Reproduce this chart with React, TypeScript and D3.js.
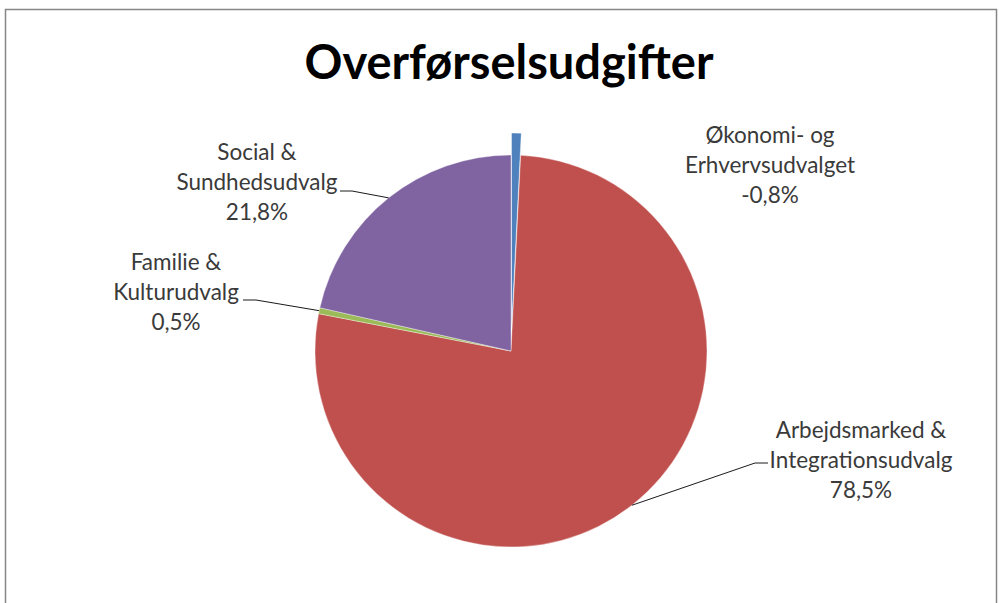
import { useEffect, useRef } from "react";
import * as d3 from "d3";

// chart data
const categories = [
  "Økonomi- og Erhvervsudvalget",
  "Arbejdsmarked & Integrationsudvalg",
  "Familie & Kulturudvalg",
  "Social & Sundhedsudvalg",
];
const values = [-0.8, 78.5, 0.5, 21.8];
const colors = ["#4F81BD", "#C0504D", "#9BBB59", "#8064A2"];
// label lines as shown in the chart
const labelLines = [
  ["Økonomi- og", "Erhvervsudvalget"],
  ["Arbejdsmarked &", "Integrationsudvalg"],
  ["Familie &", "Kulturudvalg"],
  ["Social &", "Sundhedsudvalg"],
];
const title = "Overførselsudgifter";

const W = 999;
const H = 603;

export default function App() {
  const ref = useRef<SVGSVGElement>(null);

  useEffect(() => {
    document.body.style.margin = "0";
    const svg = d3.select(ref.current);
    svg.selectAll("*").remove();

    // chart frame
    svg
      .append("rect")
      .attr("x", 5.5)
      .attr("y", 9.5)
      .attr("width", 991)
      .attr("height", 620)
      .attr("fill", "#fff")
      .attr("stroke", "#868686")
      .attr("stroke-width", 1.5);

    svg
      .append("text")
      .attr("x", 509)
      .attr("y", 79)
      .attr("text-anchor", "middle")
      .attr("font-family", "Lato, 'Open Sans', sans-serif")
      .attr("font-weight", "bold")
      .attr("font-size", 47)
      .attr("fill", "#000")
      .text(title);

    const cx = 511;
    const cy = 351;
    const r = 196;
    const explode = 22;

    const data = values.map((v, i) => ({ v, i, name: categories[i] }));
    const pie = d3
      .pie<{ v: number; i: number; name: string }>()
      .sort(null)
      .value((d) => Math.abs(d.v));
    const arcs = pie(data);
    const arc = d3
      .arc<d3.PieArcDatum<{ v: number; i: number; name: string }>>()
      .innerRadius(0)
      .outerRadius(r);

    const g = svg.append("g").attr("transform", `translate(${cx},${cy})`);
    g.selectAll("path")
      .data(arcs)
      .join("path")
      .attr("d", arc)
      .attr("fill", (d) => colors[d.data.i])
      .attr("stroke", "#fff")
      .attr("stroke-width", 0.6)
      .attr("stroke-opacity", 0.6)
      .attr("transform", (d) => {
        if (d.data.i !== 0) return null;
        const m = (d.startAngle + d.endAngle) / 2;
        return `translate(${explode * Math.sin(m)},${-explode * Math.cos(m)})`;
      });

    // label anchors (centre x, first baseline) and leader start points
    const labelPos: [number, number][] = [
      [770, 143],
      [861, 438],
      [176, 270],
      [257, 160],
    ];
    const leaderStart: ([number, number, number] | null)[] = [
      null,
      [768, 755, 463],
      [243, 256, 300],
      [340, 352, 191],
    ];
    const fmt = (v: number) => (v.toFixed(1) + "%").replace(".", ",");

    arcs.forEach((d) => {
      const i = d.data.i;
      const [lx, ly] = labelPos[i];
      const t = svg
        .append("text")
        .attr("text-anchor", "middle")
        .attr("font-family", "Lato, 'Open Sans', sans-serif")
        .attr("font-size", 22.5)
        .attr("fill", "#3a3a3a");
      [...labelLines[i], fmt(values[i])].forEach((s, k) => {
        t.append("tspan").attr("x", lx).attr("y", ly + k * 30).text(s);
      });
      const ls = leaderStart[i];
      if (ls) {
        const m = (d.startAngle + d.endAngle) / 2;
        const ex = cx + r * Math.sin(m);
        const ey = cy - r * Math.cos(m);
        svg
          .append("polyline")
          .attr("points", `${ls[0]},${ls[2]} ${ls[1]},${ls[2]} ${ex},${ey}`)
          .attr("fill", "none")
          .attr("stroke", "#1a1a1a")
          .attr("stroke-width", 1);
      }
    });
  }, []);

  return (
    <svg
      ref={ref}
      width={W}
      height={H}
      style={{ position: "absolute", left: 0, top: 0, display: "block", background: "#fff" }}
    />
  );
}
